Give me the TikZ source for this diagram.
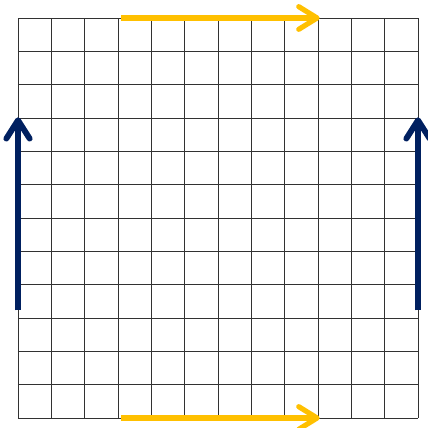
\documentclass[tikz,border=0pt]{standalone}
\usetikzlibrary{arrows.meta}
\definecolor{gridgray}{RGB}{50,50,50}
\definecolor{arrowyellow}{RGB}{255,192,0}
\definecolor{arrownavy}{RGB}{0,32,96}
\tikzset{
  gridline/.style={draw=gridgray, line width=0.8pt},
  yarrow/.style={draw=arrowyellow, line width=4.4pt, -{Straight Barb[length=5.5mm, width=6.8mm, round]}},
  barrow/.style={draw=arrownavy, line width=5pt, -{Straight Barb[length=5.5mm, width=7mm, round]}}
}
\begin{document}
\begin{tikzpicture}[x=1cm,y=1cm]
\useasboundingbox (-0.54,-0.3) rectangle (12.3,12.54);
\draw[gridline] (0,0) grid (12,12);
% coordinates for arrow ends
\coordinate (ts) at (3.1,12);
\coordinate (te) at (9.05,12);
\coordinate (bs) at (3.1,0);
\coordinate (be) at (9.05,0);
\coordinate (ls) at (0,3.23);
\coordinate (le) at (0,9.02);
\coordinate (rs) at (12,3.23);
\coordinate (re) at (12,9.02);
\draw[yarrow] (ts) -- (te);
\draw[yarrow] (bs) -- (be);
\draw[barrow] (ls) -- (le);
\draw[barrow] (rs) -- (re);
\end{tikzpicture}
\end{document}
